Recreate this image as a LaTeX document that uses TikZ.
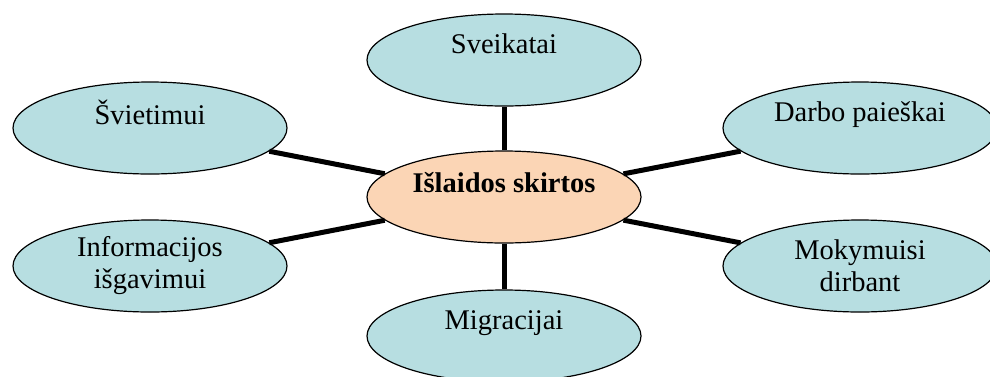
\documentclass[tikz,border=0pt]{standalone}
\usepackage{fontspec}
\setmainfont{Liberation Serif}
\usetikzlibrary{shapes.geometric}
\definecolor{bluefill}{HTML}{B7DEE1}
\definecolor{orangefill}{HTML}{FBD5B5}
\tikzset{
  bubble/.style={ellipse, draw=black, line width=1.2pt, fill=bluefill,
    minimum width=274pt, minimum height=92pt, inner sep=0pt, align=center,
    font=\fontsize{28.5}{32}\selectfont},
  hub/.style={bubble, fill=orangefill, font=\fontsize{28.5}{30}\selectfont\bfseries},
  spoke/.style={line width=5pt, black}
}
\begin{document}
\begin{tikzpicture}[x=1pt,y=-1pt]
\useasboundingbox (0,0) rectangle (990,376);
\node[hub] (c) at (504,197) {Išlaidos skirtos\\~};
\node[bubble] (sv) at (504,60) {Sveikatai\\~};
\node[bubble] (sw) at (150,128) {Švietimui\\~};
\node[bubble] (dp) at (860,128) {Darbo paieškai\\~};
\node[bubble] (ii) at (150,266) {Informacijos\\išgavimui};
\node[bubble] (md) at (860,266) {Mokymuisi\\dirbant};
\node[bubble] (mg) at (504,336) {Migracijai\\~};
\draw[spoke] (c) -- (sv);
\draw[spoke] (c) -- (sw);
\draw[spoke] (c) -- (dp);
\draw[spoke] (c) -- (ii);
\draw[spoke] (c) -- (md);
\draw[spoke] (c) -- (mg);
\end{tikzpicture}
\end{document}
